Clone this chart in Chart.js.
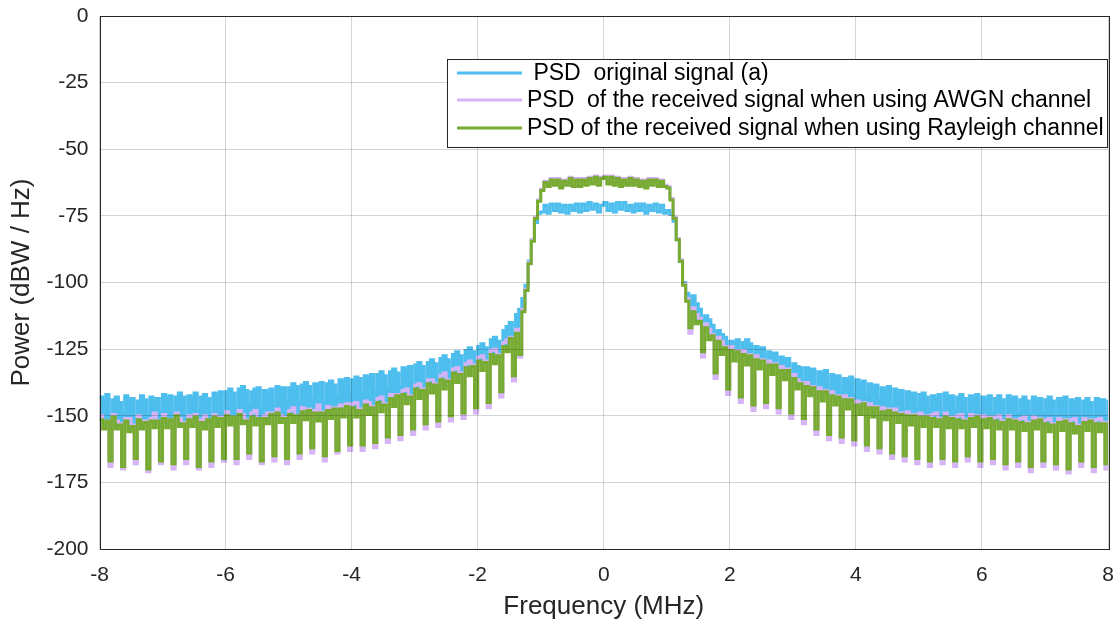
<!DOCTYPE html>
<html lang="en">
<head>
    <meta charset="UTF-8">
    <title>PSD comparison</title>
    <script src="https://cdn.jsdelivr.net/npm/chart.js@4.4.1/dist/chart.umd.min.js"></script>
    <style>
        html, body { margin: 0; padding: 0; background: #fff; }
        #wrap { width: 1118px; height: 622px; }
    </style>
</head>
<body>
    <div id="wrap"><canvas id="psdChart" width="1118" height="622"></canvas></div>

    <script>
        // frequency grid (MHz): -8 .. 8, step 0.05
        const fStart = -8;
        const fStep = 0.05;

        // PSD values (dBW/Hz), one row per MHz
        const psdOriginal = [
            -143,-144.5,-142,-150, -144,-143,-145,-149, -142.5,-144,-143.5,-151, -144.5,-142.5,-144,-150, -143,-145,-143.5,-149,
            -142,-143.5,-142.5,-149, -143,-141.5,-143,-150, -142.5,-143.5,-141.5,-148, -143,-142,-143.5,-149, -141.5,-142.5,-141,-148,
            -141,-140,-141.5,-147, -140,-139,-140.5,-146, -141,-140,-139.5,-147, -140.5,-141.5,-140,-146, -139,-140,-139.5,-145,
            -139.5,-138,-139,-145, -138.5,-137.5,-139,-144, -138,-139,-137.5,-145, -138,-137,-138.5,-143, -136.5,-137.5,-136,-142,
            -136.5,-135.5,-136,-142, -135,-136,-134.5,-141, -134.5,-133.5,-135,-140, -133.5,-132.5,-134,-139, -132,-133,-131.5,-138,
            -131,-130,-131.5,-137, -130,-129,-130.5,-136, -128.5,-127.5,-129,-134, -127,-126,-127.5,-132, -125.5,-124.5,-126,-131,
            -124,-123,-124.5,-129, -121.5,-120.5,-122,-126, -118,-116.5,-115,-119, -112,-110,-106,-101, -92,-84,-77.5,-74,
            -73.5,-71,-74,-70.5, -73,-70.5,-73.5,-71, -74,-71,-73,-70.5, -73.5,-70.5,-73,-70, -72.5,-70.5,-73.5,-71,
            -70,-73,-70.5,-73.5, -70,-72.5,-70,-73, -71,-73.5,-70.5,-73, -70.5,-74,-71,-73, -70.5,-73.5,-71,-74,
            -73,-74.5,-77,-84, -92,-100,-104,-106, -105,-108,-110,-114, -112.5,-114,-116,-120, -118,-119.5,-120.5,-125,
            -122,-123,-121.5,-127, -122.5,-121.5,-123,-128, -124,-125,-124.5,-130, -126,-127,-126.5,-132, -128,-129.5,-128.5,-134,
            -130.5,-131.5,-132,-137, -132,-133,-132.5,-139, -133.5,-134.5,-133,-140, -134.5,-135.5,-135,-141, -136,-137,-135.5,-142,
            -136.5,-138,-137,-143, -138,-139,-138.5,-144, -139.5,-140.5,-139,-146, -140,-141,-140.5,-147, -141,-142,-141.5,-147,
            -142,-141.5,-143,-148, -142.5,-143.5,-142,-149, -141.5,-143,-142.5,-148, -143,-142,-143.5,-149, -142.5,-143.5,-142,-149,
            -143,-144,-142.5,-149, -143.5,-142.5,-144,-150, -142.5,-144,-143,-149, -144,-143,-144.5,-150, -143,-144.5,-143.5,-149,
            -144,-143,-144.5,-150, -143.5,-144.5,-143,-151, -144,-145,-143.5,-150, -144.5,-143.5,-145,-151, -143.5,-144.5,-144,-150,
            -144
        ];

        const psdAwgn = [
            -150,-152.5,-152,-169, -149.5,-152,-153,-170, -151,-151,-153.5,-168, -150,-152.5,-152,-171, -151,-149,-152,-168,
            -149.5,-152,-151.5,-170, -149,-151,-152.5,-168, -150,-152,-149.5,-170, -151.5,-150,-151.5,-169, -149.5,-151,-150.5,-167,
            -148.5,-151,-150.5,-168, -148,-149.5,-151.5,-166, -149,-148,-151,-168, -150,-149,-149,-167, -147.5,-150,-150.5,-168,
            -148,-147,-150,-166, -147,-149,-147.5,-164, -148,-146,-148.5,-167, -146.5,-148.5,-147,-164, -146,-148,-145.5,-163,
            -145.5,-145,-147.5,-163, -144.5,-145,-146.5,-162, -143.5,-143,-145.5,-160, -142,-144,-142,-159, -140.5,-140,-142.5,-157,
            -138.5,-138,-140,-155, -136.5,-136.5,-138,-154, -135,-134,-136.5,-152, -132.5,-132,-134,-151, -130.5,-129.5,-131,-149,
            -128,-127.5,-129.5,-147, -125.5,-125,-127,-143, -122.5,-121.5,-120.5,-137, -117.5,-128,-110,-102.5, -92.5,-84,-75.5,-69,
            -65,-62,-63.5,-61, -63,-61,-64,-61.5, -63,-60.5,-63.5,-61, -63.5,-61,-63,-60.5, -62.5,-60,-63,-60.5,
            -60,-62.5,-60,-63, -60.5,-63.5,-61,-63, -60.5,-63,-61,-63.5, -61.5,-64,-61,-63, -61,-63.5,-61.5,-63.5,
            -64,-68.5,-75.5,-83.5, -91.5,-100.5,-106,-119, -109.5,-112,-113.5,-128, -115.5,-117.5,-119.5,-136, -120.5,-122,-124,-142,
            -124,-126,-125.5,-145, -125.5,-127.5,-127,-148, -127.5,-129,-129,-147, -129.5,-131,-130.5,-149, -131.5,-133.5,-132.5,-151,
            -134.5,-136.5,-137.5,-153, -137.5,-139,-139,-157, -139.5,-141,-140.5,-159, -141,-143,-142.5,-160, -142.5,-144,-143.5,-161,
            -144.5,-146.5,-145,-163, -145.5,-147.5,-146.5,-164, -147,-148.5,-147.5,-166, -147.5,-149.5,-149,-167, -148.5,-150.5,-149.5,-168,
            -149,-151,-150,-169, -149.5,-149,-151,-168, -149,-151.5,-150.5,-169, -150,-149.5,-151.5,-167, -149.5,-151.5,-150,-169,
            -150,-151.5,-150.5,-168, -150.5,-150,-152,-170, -150,-152.5,-151.5,-169, -151,-150.5,-152.5,-171, -150.5,-152.5,-151,-169,
            -151.5,-151,-153,-170, -151,-153,-151.5,-171.5, -151.5,-151,-153.5,-169, -151,-153,-151.5,-171, -151.5,-151,-152.5,-170,
            -152
        ];

        const psdRayleigh = [
            -151.5,-155,-152,-167, -150.5,-155,-153.5,-169, -152,-156,-154,-166, -151.5,-155,-152.5,-170, -152,-154.5,-152,-167,
            -151,-154.5,-151.5,-168, -150,-154,-153,-166, -151.5,-154,-150.5,-169, -152.5,-155,-151.5,-167, -150.5,-154,-151,-166,
            -150,-153.5,-150.5,-166, -149.5,-153,-152,-164, -150.5,-153.5,-151,-167, -151,-153,-149.5,-165, -149,-152.5,-151,-166,
            -149.5,-152.5,-150,-164, -148.5,-151.5,-148,-162, -149,-152,-149,-165, -148,-151,-147.5,-163, -147.5,-150.5,-146.5,-161,
            -147,-150.5,-148,-161, -146,-149.5,-147,-160, -145,-148.5,-146,-158, -143.5,-146.5,-142.5,-157, -142,-145.5,-143,-155,
            -140,-143.5,-140.5,-153, -138,-141.5,-138.5,-152, -136.5,-140,-137,-150, -134,-137.5,-134.5,-149, -132,-135,-131.5,-147,
            -129.5,-133,-130,-145, -127,-130.5,-127.5,-141, -124,-126,-121,-135, -119,-127,-111,-103, -93,-84.5,-76,-69.5,
            -65.5,-62.5,-64,-61.5, -63.5,-61.5,-64.5,-62, -63.5,-61,-64,-61.5, -64,-61.5,-63.5,-61, -63,-60.5,-63.5,-61,
            -60.5,-63,-60.5,-63.5, -61,-64,-61.5,-63.5, -61,-63.5,-61.5,-64, -62,-64.5,-61.5,-63.5, -61.5,-64,-62,-64,
            -64.5,-69,-76,-84, -92,-101,-107,-117, -111,-115.5,-114.5,-126, -117,-121.5,-120,-134, -122,-127,-124.5,-140,
            -125.5,-129.5,-126,-143, -127,-131,-127.5,-146, -129,-132.5,-129.5,-145, -131,-134.5,-131,-147, -133,-136.5,-133,-149,
            -136,-140,-138,-151, -139,-142.5,-139.5,-155, -141,-144.5,-141,-157, -142.5,-146,-143,-158, -144,-147.5,-144,-159,
            -146,-149.5,-145.5,-161, -147,-150.5,-147,-162, -148.5,-151.5,-148,-164, -149,-152.5,-149.5,-165, -150,-153.5,-150,-166,
            -150.5,-154,-150.5,-167, -151,-154,-151.5,-166, -150.5,-154.5,-151,-167, -151.5,-154.5,-152,-165, -151,-154,-150.5,-167,
            -151.5,-154.5,-151,-166, -152,-155,-152.5,-168, -151.5,-155,-152,-167, -152.5,-155.5,-153,-169, -152,-155,-151.5,-167,
            -153,-156,-153.5,-168, -152.5,-155.5,-152,-170, -153,-156.5,-154,-167, -152.5,-155.5,-152,-169, -153,-156,-153,-168,
            -152.5
        ];

        const seriesLabels = [
            ' PSD  original signal (a)',
            'PSD  of the received signal when using AWGN channel',
            'PSD of the received signal when using Rayleigh channel'
        ];
        const seriesColors = ['#4DBEEE', '#D6B3F7', '#77AC30'];

        const xTickStep = 2;
        const yTickStep = 25;

        const FONT = "'Liberation Sans', Arial, Helvetica, sans-serif";
        const AXIS_COLOR = '#262626';

        const freq = psdOriginal.map((_, i) => +(fStart + i * fStep).toFixed(2));

        function toPoints(values) {
            return values.map((v, i) => ({ x: freq[i], y: v }));
        }

        // box around the axes + legend in the upper right
        const boxAndLegend = {
            id: 'boxAndLegend',
            afterDraw(chart) {
                const ctx = chart.ctx;
                const a = chart.chartArea;
                ctx.save();
                ctx.strokeStyle = AXIS_COLOR;
                ctx.lineWidth = 1;
                ctx.strokeRect(Math.round(a.left) + 0.5, Math.round(a.top) + 0.5,
                    Math.round(a.right - a.left), Math.round(a.bottom - a.top));

                // legend
                const lx = 447, ly = 59, lw = 660, lh = 88;
                ctx.fillStyle = '#fff';
                ctx.fillRect(lx, ly, lw, lh);
                ctx.strokeStyle = '#262626';
                ctx.strokeRect(lx + 0.5, ly + 0.5, lw, lh);
                const rows = [73, 100, 128];
                ctx.font = '23px ' + FONT;
                ctx.textBaseline = 'middle';
                ctx.textAlign = 'left';
                chart.data.datasets.forEach((ds, i) => {
                    ctx.strokeStyle = ds.borderColor;
                    ctx.lineWidth = 3;
                    ctx.beginPath();
                    ctx.moveTo(457, rows[i]);
                    ctx.lineTo(522, rows[i]);
                    ctx.stroke();
                    ctx.fillStyle = '#000';
                    ctx.fillText(ds.label, 527, rows[i] + 1);
                });
                ctx.restore();
            }
        };

        const ctx = document.getElementById('psdChart').getContext('2d');
        const psdChart = new Chart(ctx, {
            type: 'line',
            data: {
                datasets: [{
                    label: seriesLabels[0],
                    data: toPoints(psdOriginal),
                    borderColor: seriesColors[0],
                    // the original trace is a dense band: shade it down to the Rayleigh trace
                    fill: { target: 2, above: seriesColors[0], below: 'rgba(0,0,0,0)' },
                    order: 3
                }, {
                    label: seriesLabels[1],
                    data: toPoints(psdAwgn),
                    borderColor: seriesColors[1],
                    order: 2
                }, {
                    label: seriesLabels[2],
                    data: toPoints(psdRayleigh),
                    borderColor: seriesColors[2],
                    order: 1
                }]
            },
            options: {
                responsive: false,
                animation: false,
                devicePixelRatio: 1,
                parsing: false,
                datasets: {
                    line: {
                        borderWidth: 3,
                        pointRadius: 0,
                        stepped: true,
                        borderJoinStyle: 'miter'
                    }
                },
                layout: { padding: { top: 16, right: 10, left: 0, bottom: 0 } },
                plugins: {
                    legend: { display: false },
                    tooltip: { enabled: false },
                    filler: { drawTime: 'beforeDatasetDraw' }
                },
                scales: {
                    x: {
                        type: 'linear',
                        min: -8,
                        max: 8,
                        ticks: {
                            stepSize: xTickStep,
                            color: AXIS_COLOR,
                            font: { family: FONT, size: 21 },
                            padding: 14,
                            maxRotation: 0,
                            autoSkip: false
                        },
                        grid: { color: 'rgba(0,0,0,0.17)', z: 1, drawTicks: false },
                        border: { display: false },
                        title: {
                            display: true,
                            text: 'Frequency (MHz)',
                            color: AXIS_COLOR,
                            font: { family: FONT, size: 26 },
                            padding: { top: 0, bottom: 0 }
                        },
                        afterFit(scale) {
                            scale.height = 73;
                            scale.paddingLeft = 0;
                            scale.paddingRight = 0;
                        }
                    },
                    y: {
                        type: 'linear',
                        min: -200,
                        max: 0,
                        ticks: {
                            stepSize: yTickStep,
                            color: AXIS_COLOR,
                            font: { family: FONT, size: 21 },
                            padding: 11
                        },
                        grid: { color: 'rgba(0,0,0,0.17)', z: 1, drawTicks: false },
                        border: { display: false },
                        title: {
                            display: true,
                            text: 'Power (dBW / Hz)',
                            color: AXIS_COLOR,
                            font: { family: FONT, size: 26 },
                            padding: { top: 6, bottom: 0 }
                        },
                        afterFit(scale) {
                            scale.width = 99.5;
                            scale.paddingTop = 0;
                            scale.paddingBottom = 0;
                        }
                    }
                }
            },
            plugins: [boxAndLegend]
        });
    </script>
</body>
</html>
